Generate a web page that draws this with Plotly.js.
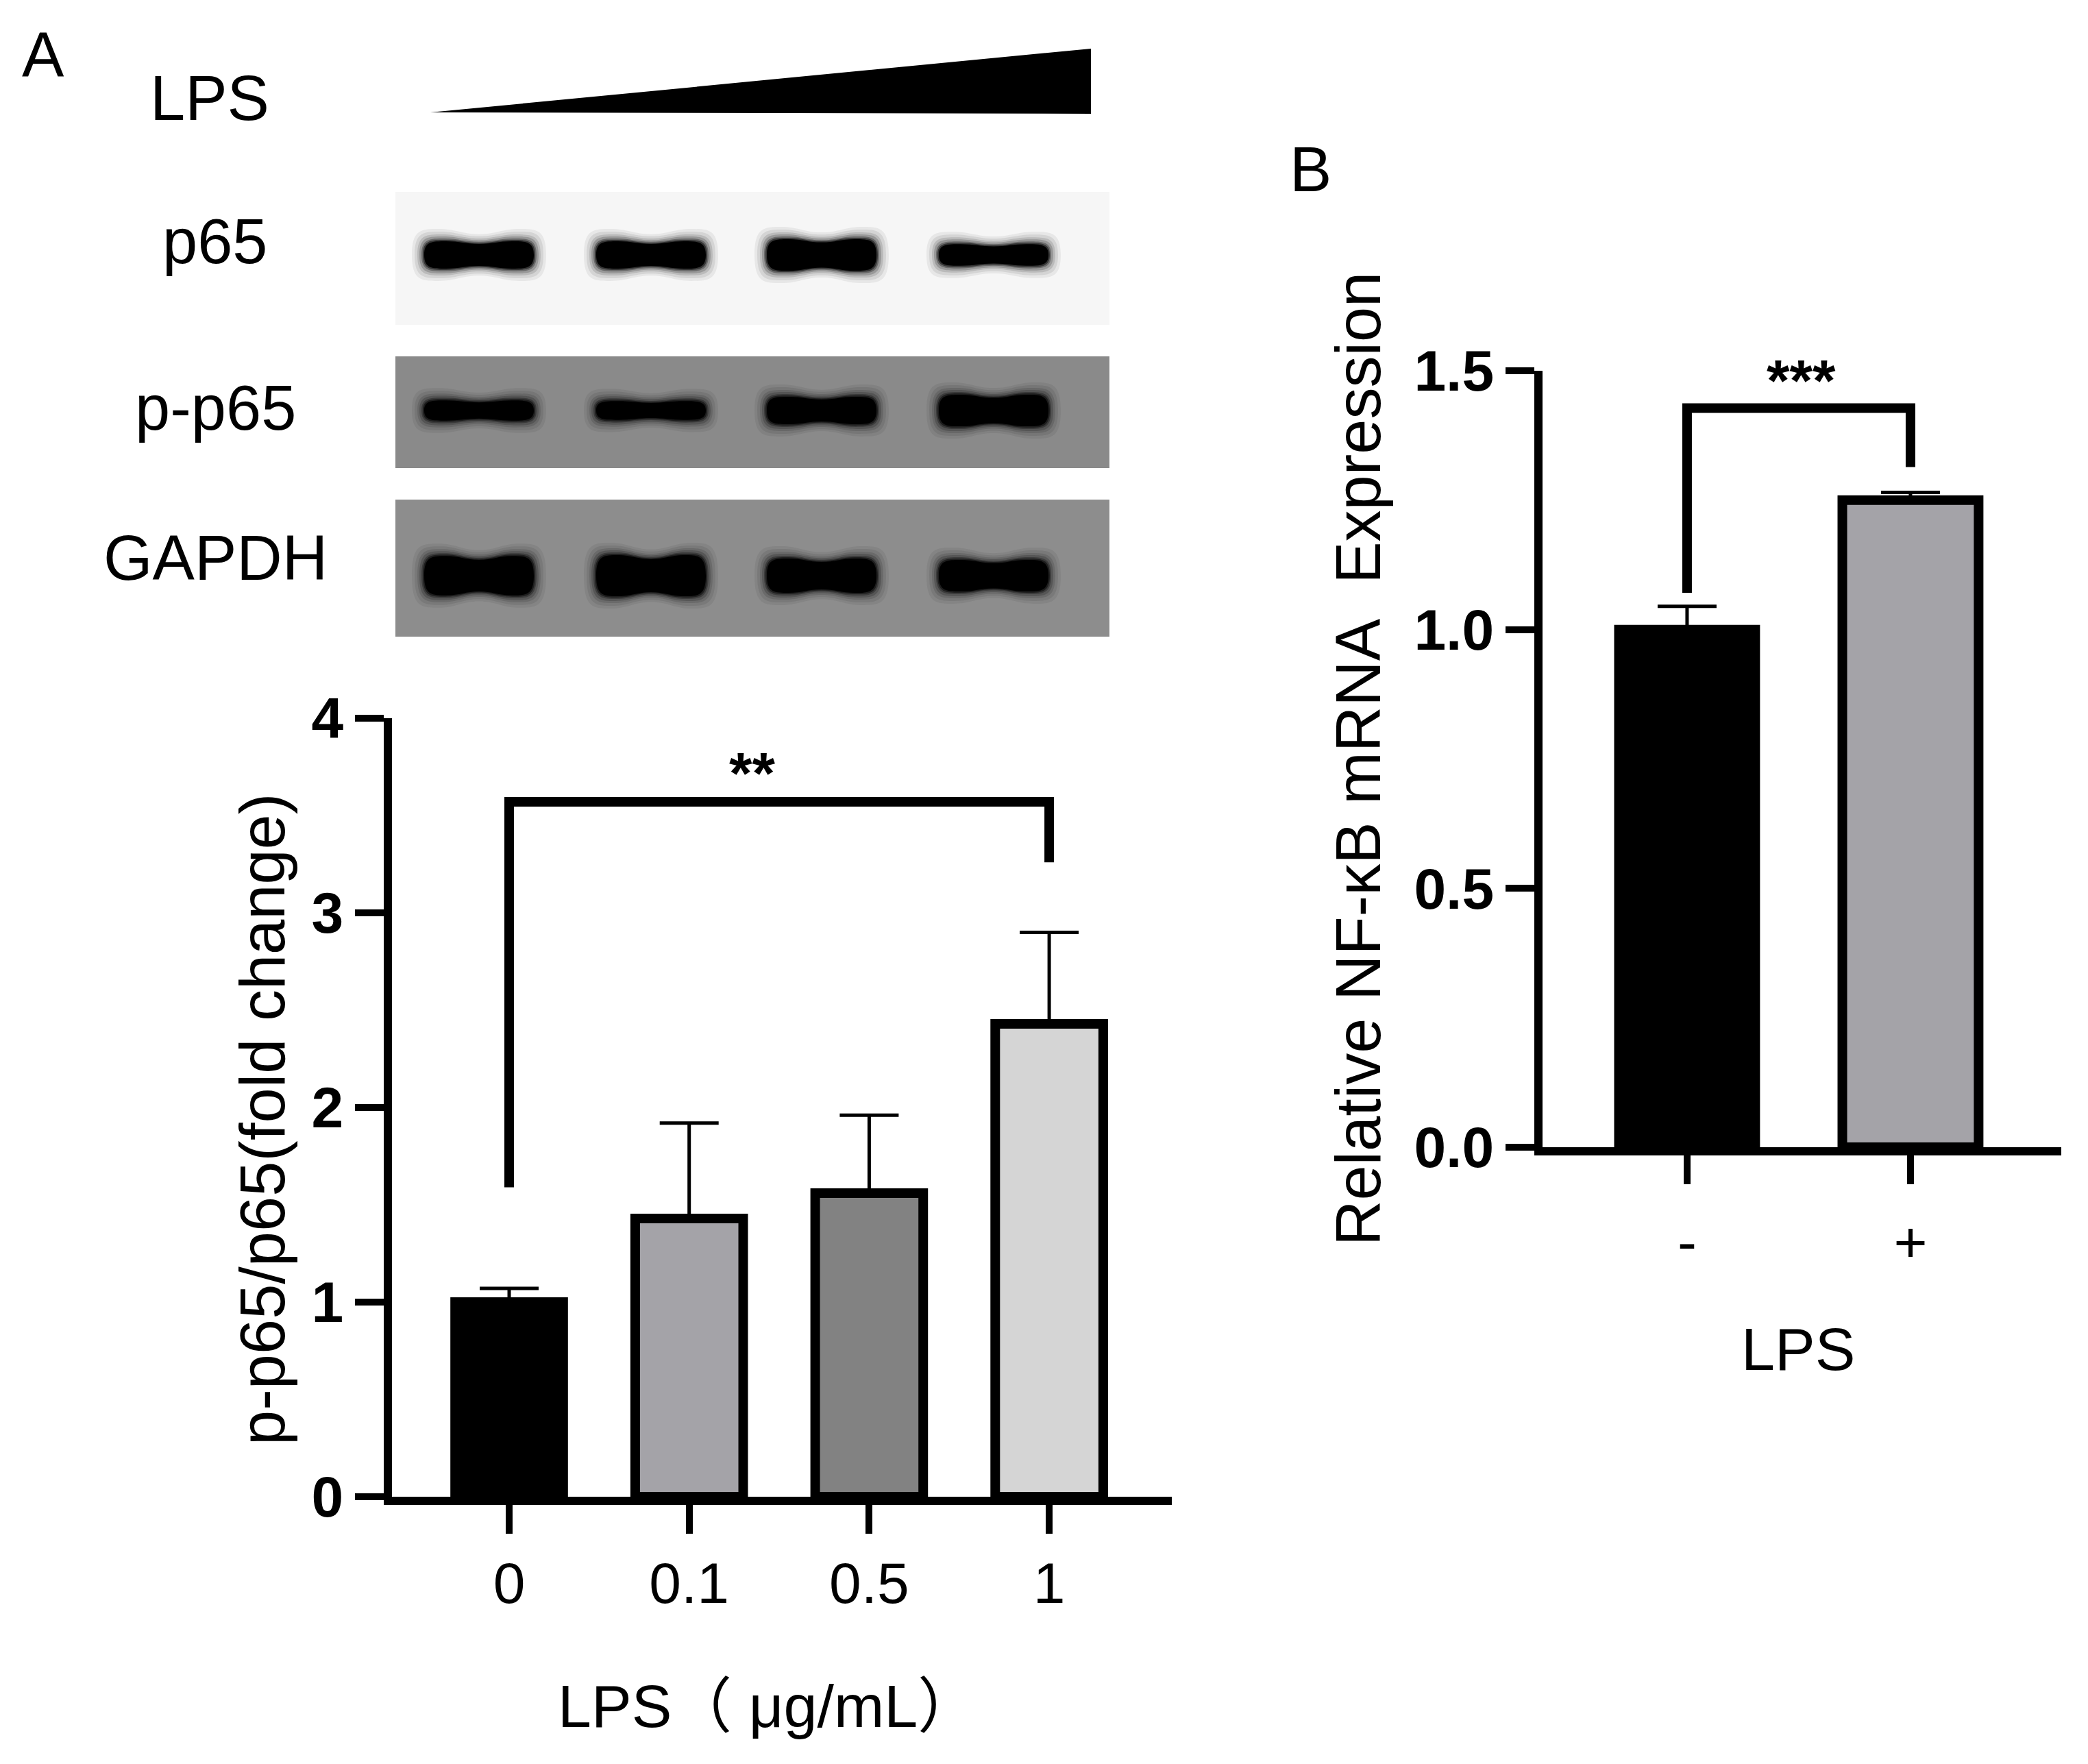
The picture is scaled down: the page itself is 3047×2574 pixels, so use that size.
<!DOCTYPE html>
<html><head><meta charset="utf-8">
<script src="https://cdn.plot.ly/plotly-3.0.1.min.js"></script>
<style>html,body{margin:0;padding:0;background:#fff}</style>
</head><body>
<div id="chart" style="width:3047px;height:2574px"></div>
<script>
// ---------------- data ----------------
const doseLabels = ['0', '0.1', '0.5', '1'];
const ratioMeans = [1.00, 1.43, 1.56, 2.43];
const ratioSEM   = [0.07, 0.49, 0.40, 0.47];
const doseColors = ['#000000', '#a4a3a8', '#828282', '#d5d5d5'];

const lpsLabels = ['-', '+'];
const nfkbMeans = [1.00, 1.25];
const nfkbSEM   = [0.045, 0.015];
const lpsColors = ['#000000', '#a4a3a8'];

const yTicksA = [0, 1, 2, 3, 4];
const yTicksB = [0, 0.5, 1.0, 1.5];
const yTickTextB = ['0.0', '0.5', '1.0', '1.5'];

const blotNames = ['p65', 'p-p65', 'GAPDH'];
const p65Band   = [0.95, 0.95, 1.10, 0.75];
const pp65Band  = [0.70, 0.65, 0.95, 1.10];
const gapdhBand = [1.15, 1.20, 1.00, 0.92];

// ---------------- helpers (pixel -> paper) ----------------
const W = 3047, H = 2574;
const fx = x => x / W;
const fy = y => 1 - y / H;
const FONT = 'Liberation Sans, Arial, Noto Sans CJK SC, sans-serif';

const shapes = [];
const annotations = [];

// wedge (increasing LPS)
shapes.push({type: 'path', xref: 'paper', yref: 'paper',
  path: `M ${fx(628)} ${fy(164)} L ${fx(1592)} ${fy(71)} L ${fx(1592)} ${fy(166)} Z`,
  fillcolor: '#000', line: {width: 0}});

// blots
const blots = [
  {top: 280, bot: 474, bg: '#f6f6f6', cy: 372, base: 21, band: p65Band, label: blotNames[0], ly: 352},
  {top: 520, bot: 683, bg: '#8a8a8a', cy: 599, base: 21, band: pp65Band, label: blotNames[1], ly: 595},
  {top: 729, bot: 929, bg: '#8d8d8d', cy: 840, base: 25, band: gapdhBand, label: blotNames[2], ly: 814}
];
const laneX = [699, 950, 1199, 1450];
function bandPath(cx, cy, w, h, p) {
  const P = (x, y) => `${fx(x)} ${fy(y)}`;
  return `M ${P(cx - w, cy)} ` +
    `C ${P(cx - w, cy - h)} ${P(cx - w * 0.85, cy - h)} ${P(cx - w * 0.6, cy - h)} ` +
    `C ${P(cx - w * 0.35, cy - h)} ${P(cx - w * 0.25, cy - h * p)} ${P(cx, cy - h * p)} ` +
    `C ${P(cx + w * 0.25, cy - h * p)} ${P(cx + w * 0.35, cy - h)} ${P(cx + w * 0.6, cy - h)} ` +
    `C ${P(cx + w * 0.85, cy - h)} ${P(cx + w, cy - h)} ${P(cx + w, cy)} ` +
    `C ${P(cx + w, cy + h)} ${P(cx + w * 0.85, cy + h)} ${P(cx + w * 0.6, cy + h)} ` +
    `C ${P(cx + w * 0.35, cy + h)} ${P(cx + w * 0.25, cy + h * p)} ${P(cx, cy + h * p)} ` +
    `C ${P(cx - w * 0.25, cy + h * p)} ${P(cx - w * 0.35, cy + h)} ${P(cx - w * 0.6, cy + h)} ` +
    `C ${P(cx - w * 0.85, cy + h)} ${P(cx - w, cy + h)} ${P(cx - w, cy)} Z`;
}
const blurLayers = [[18, 0.06], [14, 0.08], [10, 0.12], [7, 0.18], [4, 0.3], [2, 0.5], [0, 1]];
blots.forEach(b => {
  shapes.push({type: 'rect', xref: 'paper', yref: 'paper', x0: fx(577), x1: fx(1619),
    y0: fy(b.bot), y1: fy(b.top), fillcolor: b.bg, line: {width: 0}, layer: 'below'});
  b.band.forEach((v, i) => {
    const h = b.base * v;
    blurLayers.forEach(([g, op]) => {
      shapes.push({type: 'path', xref: 'paper', yref: 'paper',
        path: bandPath(laneX[i], b.cy, 80 + g, h + g, 0.8),
        fillcolor: '#000', opacity: op, line: {width: 0}, layer: 'below'});
    });
  });
  annotations.push({xref: 'paper', yref: 'paper', x: fx(314), y: fy(b.ly), text: b.label,
    showarrow: false, xanchor: 'center', yanchor: 'middle', font: {family: FONT, size: 92, color: '#000'}});
});

// panel letters & LPS label
annotations.push({xref: 'paper', yref: 'paper', x: fx(63), y: fy(80), text: 'A', showarrow: false,
  xanchor: 'center', yanchor: 'middle', font: {family: FONT, size: 92, color: '#000'}});
annotations.push({xref: 'paper', yref: 'paper', x: fx(306), y: fy(143), text: 'LPS', showarrow: false,
  xanchor: 'center', yanchor: 'middle', font: {family: FONT, size: 92, color: '#000'}});
annotations.push({xref: 'paper', yref: 'paper', x: fx(1912), y: fy(247), text: 'B', showarrow: false,
  xanchor: 'center', yanchor: 'middle', font: {family: FONT, size: 92, color: '#000'}});

// axis titles as annotations
annotations.push({xref: 'paper', yref: 'paper', x: fx(383), y: fy(1634), text: 'p-p65/p65(fold change)',
  textangle: -90, showarrow: false, xanchor: 'center', yanchor: 'middle', font: {family: FONT, size: 92, color: '#000'}});
annotations.push({xref: 'paper', yref: 'paper', x: fx(1120), y: fy(2489), text: 'LPS（ μg/mL）',
  showarrow: false, xanchor: 'center', yanchor: 'middle', font: {family: FONT, size: 88, color: '#000'}});
annotations.push({xref: 'paper', yref: 'paper', x: fx(1982), y: fy(1108), text: 'Relative NF-κB mRNA\u00a0 Expression',
  textangle: -90, showarrow: false, xanchor: 'center', yanchor: 'middle', font: {family: FONT, size: 92, color: '#000'}});
annotations.push({xref: 'paper', yref: 'paper', x: fx(2624), y: fy(1968), text: 'LPS',
  showarrow: false, xanchor: 'center', yanchor: 'middle', font: {family: FONT, size: 88, color: '#000'}});

// significance brackets
shapes.push({type: 'path', xref: 'x', yref: 'y',
  path: 'M 0 1.59 L 0 3.57 L 3 3.57 L 3 3.26', line: {color: '#000', width: 14}});
annotations.push({xref: 'x', yref: 'y', x: 1.35, y: 3.72, text: '**', showarrow: false,
  xanchor: 'center', yanchor: 'middle', font: {family: FONT, size: 86, weight: 'bold', color: '#000'}});
shapes.push({type: 'path', xref: 'x2', yref: 'y2',
  path: 'M 0 1.071 L 0 1.428 L 1 1.428 L 1 1.314', line: {color: '#000', width: 14}});
annotations.push({xref: 'x2', yref: 'y2', x: 0.51, y: 1.482, text: '***', showarrow: false,
  xanchor: 'center', yanchor: 'middle', font: {family: FONT, size: 86, weight: 'bold', color: '#000'}});

// ---------------- traces ----------------
const traces = [
  {type: 'bar', x: doseLabels, y: ratioMeans, xaxis: 'x', yaxis: 'y', width: 0.6,
   marker: {color: doseColors, line: {color: '#000', width: 14}},
   error_y: {type: 'data', symmetric: false, array: ratioSEM, arrayminus: ratioSEM.map(() => 0),
             color: '#000', thickness: 5, width: 43},
   showlegend: false, hoverinfo: 'skip'},
  {type: 'bar', x: lpsLabels, y: nfkbMeans, xaxis: 'x2', yaxis: 'y2', width: 0.61,
   marker: {color: lpsColors, line: {color: '#000', width: 14}},
   error_y: {type: 'data', symmetric: false, array: nfkbSEM, arrayminus: nfkbSEM.map(() => 0),
             color: '#000', thickness: 5, width: 43},
   showlegend: false, hoverinfo: 'skip'}
];

const axCommon = {showline: true, linecolor: '#000', linewidth: 12, ticks: 'outside', ticklen: 42,
  tickwidth: 10, tickcolor: '#000', showgrid: false, zeroline: false, fixedrange: true};

const layout = {
  width: W, height: H, margin: {l: 0, r: 0, t: 0, b: 0}, paper_bgcolor: '#fff', plot_bgcolor: 'rgba(0,0,0,0)',
  showlegend: false, bargap: 0,
  xaxis: Object.assign({}, axCommon, {domain: [fx(572), fx(1710)], anchor: 'y', type: 'category',
    range: [-0.651, 3.681], tickfont: {family: FONT, size: 84, color: '#000'}}),
  yaxis: Object.assign({}, axCommon, {domain: [fy(2184), fy(1048)], anchor: 'x', range: [0, 4],
    tickvals: yTicksA, tickfont: {family: FONT, size: 84, weight: 'bold', color: '#000'}}),
  xaxis2: Object.assign({}, axCommon, {domain: [fx(2251), fx(3008)], anchor: 'y2', type: 'category',
    range: [-0.647, 1.675], ticklabelstandoff: 12, tickfont: {family: FONT, size: 84, color: '#000'}}),
  yaxis2: Object.assign({}, axCommon, {domain: [fy(1674), fy(541)], anchor: 'x2', range: [0, 1.5],
    tickvals: yTicksB, ticktext: yTickTextB, tickfont: {family: FONT, size: 84, weight: 'bold', color: '#000'}}),
  shapes: shapes,
  annotations: annotations
};

Plotly.newPlot('chart', traces, layout, {staticPlot: true, displayModeBar: false});
</script>
</body></html>
